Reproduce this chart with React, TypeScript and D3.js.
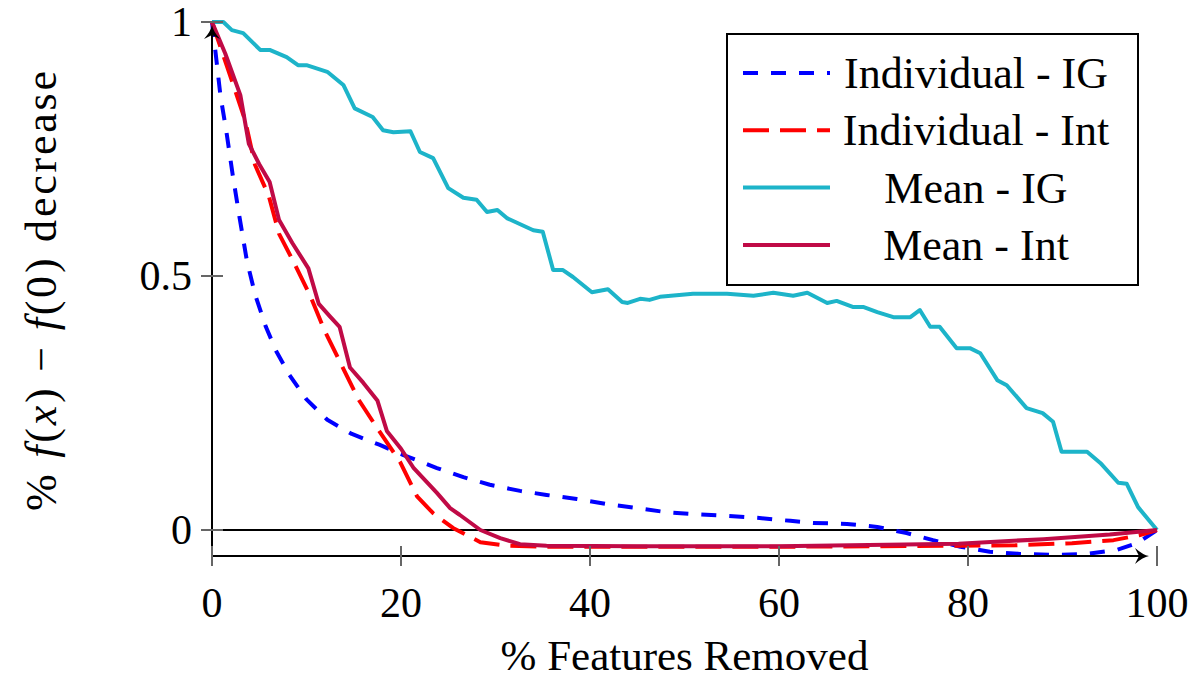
import React from "react";
import * as d3 from "d3";

// series (x = % features removed, y = % f(x) - f(0) decrease)
const indivIgX = [0, 0.4, 0.9, 1.5, 2.2, 2.9, 3.7, 4.6, 5.7, 6.8, 8.2, 10, 12.2, 14.8, 17.7, 20.2, 23.8, 26.6, 29.4, 32.6, 35.4, 38.6, 41.8, 45, 48.1, 51.3, 54.5, 57.7, 61.2, 63.6, 67.2, 70.4, 73.5, 76.3, 79.2, 82.3, 85.5, 89, 92.6, 95.8, 97.9, 100];
const indivIgY = [1, 0.936, 0.854, 0.787, 0.698, 0.617, 0.529, 0.461, 0.4, 0.352, 0.305, 0.257, 0.217, 0.189, 0.168, 0.148, 0.122, 0.104, 0.089, 0.077, 0.069, 0.061, 0.051, 0.043, 0.035, 0.031, 0.028, 0.024, 0.018, 0.014, 0.012, 0.006, -0.006, -0.02, -0.033, -0.043, -0.047, -0.049, -0.047, -0.039, -0.026, 0];

const indivIntX = [0, 2.4, 3.5, 4.55, 6, 7.1, 8.6, 10.4, 11.9, 13.7, 15.5, 17.5, 19.9, 21.7, 23.4, 25.5, 28.4, 31.2, 35, 60, 79, 85, 91, 95.4, 98.2, 100];
const indivIntY = [1, 0.868, 0.807, 0.719, 0.658, 0.583, 0.529, 0.461, 0.393, 0.325, 0.257, 0.2, 0.134, 0.066, 0.033, 0.004, -0.024, -0.031, -0.033, -0.033, -0.031, -0.03, -0.026, -0.02, -0.01, 0];

const meanIgX = [0, 1.2, 2.1, 3.3, 5.1, 6.1, 7.9, 9.1, 10, 12.2, 13.9, 15.1, 17, 18.1, 19.2, 21, 22, 23.4, 25, 26.6, 28, 29.1, 30.2, 31.2, 34, 35, 36.1, 37.1, 38.2, 40.2, 41.9, 43.4, 44, 45.3, 46.3, 47.4, 50.9, 54.5, 57.3, 59.4, 61.5, 63, 65.1, 66.1, 67.8, 68.9, 70.4, 72.1, 73.9, 74.9, 76, 77, 78.8, 80.2, 81.3, 83.1, 84.1, 86.2, 87.9, 89, 89.9, 92.6, 94, 95.9, 96.8, 98, 100];
const meanIgY = [1, 1, 0.984, 0.978, 0.945, 0.945, 0.931, 0.915, 0.915, 0.902, 0.876, 0.83, 0.813, 0.787, 0.783, 0.785, 0.744, 0.732, 0.673, 0.654, 0.65, 0.626, 0.63, 0.614, 0.59, 0.587, 0.512, 0.512, 0.498, 0.468, 0.474, 0.449, 0.447, 0.455, 0.453, 0.459, 0.465, 0.465, 0.461, 0.467, 0.461, 0.467, 0.447, 0.451, 0.439, 0.439, 0.429, 0.419, 0.419, 0.433, 0.4, 0.4, 0.358, 0.358, 0.348, 0.295, 0.285, 0.24, 0.23, 0.213, 0.154, 0.154, 0.132, 0.093, 0.091, 0.045, 0];

const meanIntX = [0, 1.4, 3, 3.9, 5, 6.1, 7.1, 8.5, 10.2, 11.3, 12.5, 13.5, 14.6, 16, 17.5, 18.5, 20, 21.3, 23.8, 25.2, 26.2, 28.4, 30.5, 32.6, 35.4, 45, 60, 79, 88, 95, 100];
const meanIntY = [1, 0.938, 0.856, 0.76, 0.72, 0.685, 0.61, 0.565, 0.515, 0.445, 0.42, 0.4, 0.32, 0.29, 0.255, 0.195, 0.16, 0.123, 0.073, 0.043, 0.03, 0, -0.016, -0.028, -0.031, -0.032, -0.032, -0.027, -0.018, -0.009, 0];

const xTicks = [0, 20, 40, 60, 80, 100];
const yTicks = [0, 0.5, 1];
const yTickLabels = ["0", "0.5", "1"];

const legendNames = ["Individual - IG", "Individual - Int", "Mean - IG", "Mean - Int"];

const W = 1196;
const H = 681;
const FONT = '"Liberation Serif", "DejaVu Serif", "Noto Serif", serif';

const series = [
  { name: legendNames[0], xs: indivIgX, ys: indivIgY, color: "#0000ff", dash: "15 13" },
  { name: legendNames[1], xs: indivIntX, ys: indivIntY, color: "#ff0000", dash: "26 11" },
  { name: legendNames[2], xs: meanIgX, ys: meanIgY, color: "#1db4c9", dash: null },
  { name: legendNames[3], xs: meanIntX, ys: meanIntY, color: "#c00a46", dash: null },
];

export default function App() {
  const x = d3.scaleLinear().domain([0, 100]).range([212, 1157]);
  const y = d3.scaleLinear().domain([0, 1]).range([530, 22]);
  const yMin = -0.051;
  const axisY = y(yMin);
  const x0 = x(0);

  const line = d3
    .line<[number, number]>()
    .x((d) => x(d[0]))
    .y((d) => y(d[1]));

  const arrowTipX = x(100) - 8;
  const arrowTipY = y(1) + 3;
  const txt = { fontFamily: FONT };

  return (
    <svg width={W} height={H} style={{ position: "absolute", left: 0, top: 0, background: "#fff", fontFamily: FONT }}>
      {/* zero line */}
      <line x1={x0} x2={x(100)} y1={y(0)} y2={y(0)} stroke="#000" strokeWidth={2} />

      {/* curves */}
      {series.map((s) => (
        <path
          key={s.name}
          d={line(s.xs.map((v, i) => [v, s.ys[i]] as [number, number])) || ""}
          fill="none"
          stroke={s.color}
          strokeWidth={4}
          strokeDasharray={s.dash || undefined}
          strokeLinejoin="round"
        />
      ))}

      {/* axes */}
      <line x1={x0} x2={arrowTipX - 4} y1={axisY} y2={axisY} stroke="#000" strokeWidth={2} />
      <path
        d={`M${arrowTipX - 14},${axisY - 8} Q${arrowTipX - 6},${axisY - 1} ${arrowTipX},${axisY} Q${arrowTipX - 6},${axisY + 1} ${arrowTipX - 14},${axisY + 8} L${arrowTipX - 10},${axisY} Z`}
        fill="#000"
      />
      <line x1={x0} x2={x0} y1={axisY} y2={arrowTipY + 4} stroke="#000" strokeWidth={2} />
      <path
        d={`M${x0 - 8},${arrowTipY + 14} Q${x0 - 1},${arrowTipY + 6} ${x0},${arrowTipY} Q${x0 + 1},${arrowTipY + 6} ${x0 + 8},${arrowTipY + 14} L${x0},${arrowTipY + 10} Z`}
        fill="#000"
      />

      {/* x ticks */}
      {xTicks.map((t) => (
        <g key={"xt" + t}>
          <line x1={x(t)} x2={x(t)} y1={axisY - 10} y2={axisY + 10} stroke="#666" strokeWidth={2} />
          <text x={x(t)} y={axisY + 61} textAnchor="middle" fontSize={42} style={txt}>
            {t}
          </text>
        </g>
      ))}

      {/* y ticks */}
      {yTicks.map((t, i) => (
        <g key={"yt" + t}>
          <line x1={x0 - 11} x2={x0 + 11} y1={y(t)} y2={y(t)} stroke="#666" strokeWidth={2} />
          <text x={x0 - 20} y={y(t) + 14} textAnchor="end" fontSize={42} style={txt}>
            {yTickLabels[i]}
          </text>
        </g>
      ))}

      {/* axis titles */}
      <text x={(x(0) + x(100)) / 2} y={670} textAnchor="middle" fontSize={43} style={txt}>
        % Features Removed
      </text>
      <text
        transform={`translate(56,${(y(1) + axisY) / 2 + 2}) rotate(-90)`}
        textAnchor="middle"
        fontSize={44}
        textLength={440}
        lengthAdjust="spacing"
        style={txt}
      >
        {"% "}
        <tspan fontStyle="italic">f</tspan>
        {"("}
        <tspan fontStyle="italic">x</tspan>
        {")  −  "}
        <tspan fontStyle="italic">f</tspan>
        {"(0) decrease"}
      </text>

      {/* legend */}
      <g>
        <rect x={727} y={34} width={411} height={251} fill="#fff" stroke="#000" strokeWidth={2} />
        {series.map((s, i) => {
          const ly = 73 + i * 57.3;
          return (
            <g key={"lg" + s.name}>
              <line x1={743} x2={830} y1={ly} y2={ly} stroke={s.color} strokeWidth={4} strokeDasharray={s.dash || undefined} />
              <text x={976} y={ly + 15} textAnchor="middle" fontSize={44} style={txt}>
                {s.name}
              </text>
            </g>
          );
        })}
      </g>
    </svg>
  );
}
